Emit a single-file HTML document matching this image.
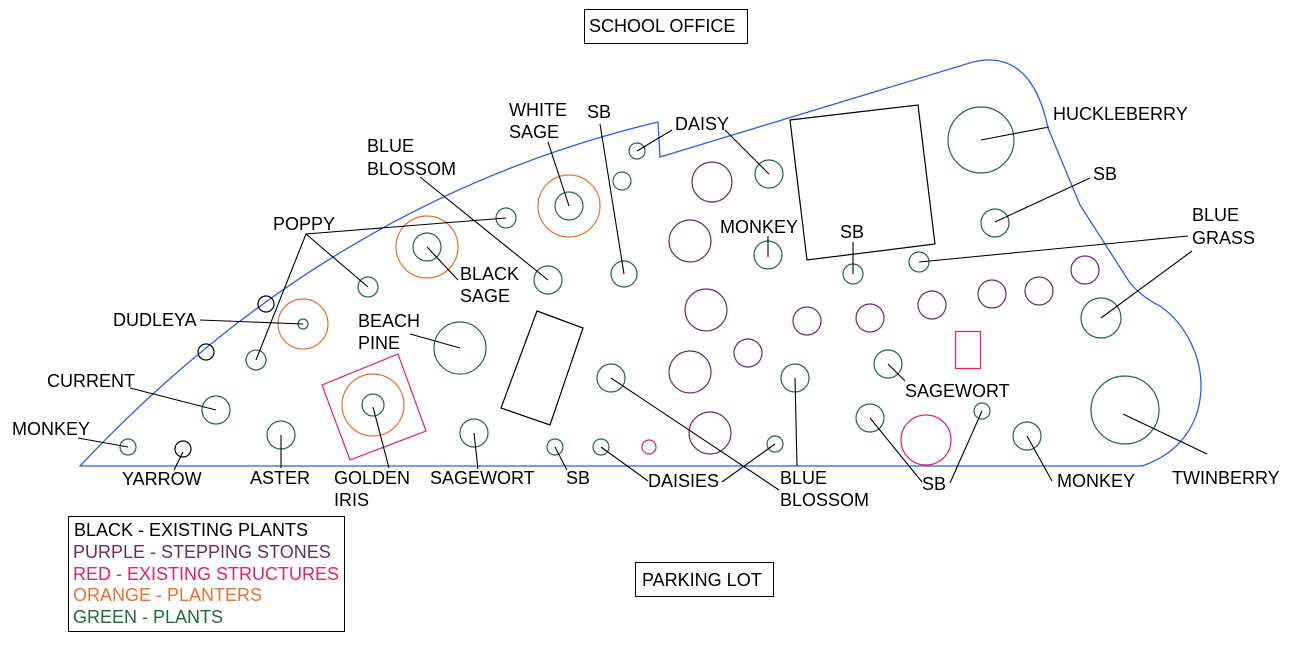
<!DOCTYPE html>
<html><head><meta charset="utf-8"><style>
html,body{margin:0;padding:0;background:#fff;}
svg{display:block;}
text{font-family:"Liberation Sans",Arial,sans-serif;font-size:18px;fill:#000;}
</style></head><body>
<svg width="1295" height="645" viewBox="0 0 1295 645" xmlns="http://www.w3.org/2000/svg">
<rect width="1295" height="645" fill="#fff"/>
<rect x="584.5" y="9.5" width="163" height="34" fill="none" stroke="#000"/>
<text x="589" y="32">SCHOOL OFFICE</text>
<rect x="635.5" y="562.5" width="138" height="34" fill="none" stroke="#000"/>
<text x="642" y="586">PARKING LOT</text>
<rect x="68.5" y="516.5" width="276" height="115" fill="none" stroke="#000"/>
<text x="74" y="536">BLACK - EXISTING PLANTS</text>
<text x="73" y="558" style="fill:#6b2a6b">PURPLE - STEPPING STONES</text>
<text x="73" y="580" style="fill:#e0245e">RED - EXISTING STRUCTURES</text>
<text x="73" y="601" style="fill:#e87030">ORANGE - PLANTERS</text>
<text x="73" y="623" style="fill:#1e6b3c">GREEN - PLANTS</text>
<path d="M80,466 Q330,200 658,122 L660,157 L973,62 C1015,52 1038,80 1048,128 L1080,205 L1130,283 Q1143,298 1160,306 C1215,345 1220,440 1142,466 Z" fill="none" stroke="#2a5fe0" stroke-width="1.3"/>
<g fill="none" stroke="#000" stroke-width="1.2">
<polygon points="790,120 918,105 935,244 807,260"/>
<polygon points="537,311 583,328 550,425 501,408"/>
<circle cx="266" cy="304" r="8"/><circle cx="206" cy="352" r="8"/><circle cx="183" cy="449" r="8"/>
</g>
<g fill="none" stroke="#e0245e" stroke-width="1.2">
<polygon points="322,385 398,354 426,431 350,460"/>
<rect x="955.5" y="331.5" width="25" height="37"/>
<circle cx="926" cy="440" r="25"/>
<circle cx="649" cy="447" r="7"/>
</g>
<g fill="none" stroke="#e87030" stroke-width="1.2">
<circle cx="373" cy="405" r="31"/><circle cx="303" cy="324" r="25"/><circle cx="427" cy="247" r="31"/><circle cx="569" cy="206" r="31"/>
</g>
<g fill="none" stroke="#6b2a6b" stroke-width="1.2">
<circle cx="712" cy="182" r="20"/><circle cx="690" cy="241" r="21"/><circle cx="706" cy="310" r="21"/><circle cx="690" cy="372" r="21"/><circle cx="710" cy="433" r="21"/><circle cx="748" cy="353" r="14"/><circle cx="807" cy="321" r="14"/><circle cx="870" cy="318" r="14"/><circle cx="932" cy="305" r="14"/><circle cx="992" cy="294" r="14"/><circle cx="1039" cy="291" r="14"/><circle cx="1085" cy="270" r="14"/>
</g>
<g fill="none" stroke="#1e6b3c" stroke-width="1.2">
<circle cx="981" cy="140" r="33"/><circle cx="995" cy="223" r="14"/><circle cx="1101" cy="318" r="20"/><circle cx="1125" cy="410" r="34"/><circle cx="1027" cy="436" r="14"/><circle cx="982" cy="411" r="8"/><circle cx="870" cy="418" r="14"/><circle cx="888" cy="364" r="14"/><circle cx="795" cy="378" r="14"/><circle cx="775" cy="444" r="8"/><circle cx="601" cy="447" r="8"/><circle cx="611" cy="378" r="14"/><circle cx="555" cy="447" r="8"/><circle cx="474" cy="433" r="14"/><circle cx="373" cy="405" r="11"/><circle cx="281" cy="435" r="14"/><circle cx="128" cy="447" r="8"/><circle cx="216" cy="410" r="14"/><circle cx="256" cy="360" r="10"/><circle cx="303" cy="324" r="5"/><circle cx="368" cy="287" r="10"/><circle cx="506" cy="218" r="10"/><circle cx="427" cy="247" r="14"/><circle cx="460" cy="348" r="26"/><circle cx="548" cy="280" r="14"/><circle cx="569" cy="206" r="14"/><circle cx="624" cy="274" r="13"/><circle cx="622" cy="181" r="9"/><circle cx="637" cy="151" r="8"/><circle cx="769" cy="174" r="14"/><circle cx="768" cy="255" r="14"/><circle cx="853" cy="274" r="10"/><circle cx="919" cy="262" r="10"/>
</g>
<g stroke="#000" stroke-width="1.1" fill="none">
<line x1="981" y1="140" x2="1049" y2="127"/>
<line x1="995" y1="222" x2="1090" y2="178"/>
<line x1="1101" y1="318" x2="1192" y2="251"/>
<line x1="1123" y1="414" x2="1207" y2="454"/>
<line x1="1027" y1="436" x2="1052" y2="481"/>
<line x1="982" y1="411" x2="950" y2="483"/>
<line x1="870" y1="418" x2="922" y2="482"/>
<line x1="888" y1="364" x2="905" y2="381"/>
<line x1="795" y1="378" x2="797" y2="466"/>
<line x1="775" y1="444" x2="722" y2="482"/>
<line x1="601" y1="447" x2="648" y2="481"/>
<line x1="611" y1="378" x2="779" y2="490"/>
<line x1="555" y1="447" x2="567" y2="470"/>
<line x1="474" y1="433" x2="478" y2="469"/>
<line x1="373" y1="407" x2="389" y2="468"/>
<line x1="281" y1="435" x2="281" y2="468"/>
<line x1="183" y1="452" x2="174" y2="470"/>
<line x1="128" y1="447" x2="78" y2="438"/>
<line x1="216" y1="410" x2="130" y2="388"/>
<polyline points="256,360 306,234 368,287"/>
<line x1="306" y1="234" x2="506" y2="218"/>
<line x1="303" y1="324" x2="200" y2="320"/>
<line x1="427" y1="247" x2="458" y2="280"/>
<line x1="460" y1="348" x2="410" y2="334"/>
<line x1="548" y1="280" x2="420" y2="177"/>
<line x1="569" y1="206" x2="548" y2="142"/>
<line x1="624" y1="274" x2="600" y2="124"/>
<line x1="637" y1="151" x2="672" y2="130"/>
<line x1="769" y1="174" x2="725" y2="130"/>
<line x1="768" y1="257" x2="768" y2="236"/>
<line x1="853" y1="274" x2="853" y2="242"/>
<line x1="919" y1="262" x2="1188" y2="236"/>
</g>
<text x="1053" y="120">HUCKLEBERRY</text>
<text x="1093" y="180">SB</text>
<text x="1192" y="221">BLUE</text><text x="1192" y="244">GRASS</text>
<text x="1172" y="484">TWINBERRY</text>
<text x="1057" y="487">MONKEY</text>
<text x="922" y="490">SB</text>
<text x="905" y="397">SAGEWORT</text>
<text x="780" y="484">BLUE</text><text x="780" y="506">BLOSSOM</text>
<text x="648" y="487">DAISIES</text>
<text x="566" y="484">SB</text>
<text x="430" y="484">SAGEWORT</text>
<text x="334" y="484">GOLDEN</text><text x="334" y="506">IRIS</text>
<text x="250" y="484">ASTER</text>
<text x="122" y="485">YARROW</text>
<text x="12" y="435">MONKEY</text>
<text x="47" y="387">CURRENT</text>
<text x="113" y="326">DUDLEYA</text>
<text x="273" y="230">POPPY</text>
<text x="460" y="280">BLACK</text><text x="460" y="302">SAGE</text>
<text x="358" y="327">BEACH</text><text x="358" y="349">PINE</text>
<text x="367" y="152">BLUE</text><text x="367" y="175">BLOSSOM</text>
<text x="509" y="116">WHITE</text><text x="509" y="138">SAGE</text>
<text x="587" y="118">SB</text>
<text x="675" y="130">DAISY</text>
<text x="720" y="233">MONKEY</text>
<text x="840" y="238">SB</text>
</svg>
</body></html>
